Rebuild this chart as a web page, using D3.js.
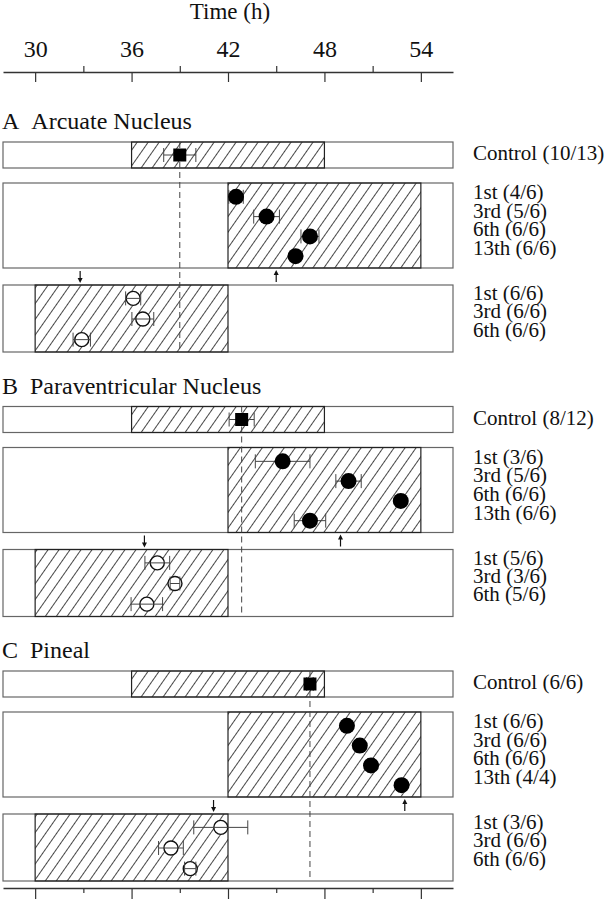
<!DOCTYPE html>
<html>
<head>
<meta charset="utf-8">
<script src="https://cdn.jsdelivr.net/npm/d3@7"></script>
<style>
  body { margin: 0; background: #fff; }
  svg, svg text { font-family: "Liberation Serif", Tinos, "Times New Roman", Times, "DejaVu Serif", serif !important; }
</style>
</head>
<body>
<div id="chart"></div>
<script>
var width = 612, height = 899;
var serif = "'Liberation Serif', Tinos, 'Times New Roman', Times, 'DejaVu Serif', serif";

// time axis
var tickHours = [30, 36, 42, 48, 54];
var minorHours = [33, 39, 45, 51];

// panels
var panelLetters = ["A", "B", "C"];
var panelNames = ["Arcuate Nucleus", "Paraventricular Nucleus", "Pineal"];

// shaded (dark) intervals of each row of boxes
var controlHatch = [36, 48];
var lateHatch = [42, 54];
var earlyHatch = [30, 42];

// control peak times
var controlMean = [39.0, 42.85, 47.1];
var controlErr = [1.0, 0.78, 0.2];
var controlLabels = ["Control (10/13)", "Control (8/12)", "Control (6/6)"];

// filled circles (middle boxes)
var lateMean = [
  [42.5, 44.4, 47.1, 46.2],
  [45.4, 49.5, 52.75, 47.1],
  [49.4, 50.2, 50.9, 52.8]
];
var lateErr = [
  [0.45, 0.8, 0.56, 0.2],
  [1.7, 0.79, 0.2, 0.98],
  [0.2, 0.2, 0.2, 0.2]
];
var lateLabels = [
  ["1st (4/6)", "3rd (5/6)", "6th (6/6)", "13th (6/6)"],
  ["1st (3/6)", "3rd (5/6)", "6th (6/6)", "13th (6/6)"],
  ["1st (6/6)", "3rd (6/6)", "6th (6/6)", "13th (4/4)"]
];

// open circles (bottom boxes)
var earlyMean = [
  [36.1, 36.7, 32.9],
  [37.6, 38.7, 36.95],
  [41.55, 38.45, 39.65]
];
var earlyErr = [
  [0.47, 0.68, 0.54],
  [0.77, 0.3, 0.98],
  [1.68, 0.77, 0.35]
];
var earlyLabels = [
  ["1st (6/6)", "3rd (6/6)", "6th (6/6)"],
  ["1st (5/6)", "3rd (3/6)", "6th (5/6)"],
  ["1st (3/6)", "3rd (6/6)", "6th (6/6)"]
];

// small arrows between the boxes
var arrowDown = [32.8, 36.8, 41.1];
var arrowUp = [45.0, 49.0, 53.0];

var x = d3.scaleLinear().domain([28, 56]).range([3, 453]);

var svg = d3.select("#chart")
  .append("svg")
    .attr("width", width)
    .attr("height", height)
    .attr("font-family", serif);

var defs = svg.append("defs");
defs.append("pattern")
    .attr("id", "hatch")
    .attr("patternUnits", "userSpaceOnUse")
    .attr("width", 9)
    .attr("height", 9)
    .attr("patternTransform", "rotate(35)")
  .append("line")
    .attr("x1", 4.5).attr("y1", 0)
    .attr("x2", 4.5).attr("y2", 9)
    .attr("stroke", "#333")
    .attr("stroke-width", 0.9);

// ---- top axis
var axisY = 72;
svg.append("text")
  .attr("x", 230)
  .attr("y", 19)
  .attr("text-anchor", "middle")
  .attr("font-family", serif)
  .attr("font-size", 23)
  .attr("fill", "#111")
  .text("Time (h)");

var topAxis = svg.append("g")
  .attr("transform", "translate(0," + axisY + ")")
  .call(d3.axisTop(x)
    .tickValues(tickHours.concat(minorHours))
    .tickSizeInner(-10)
    .tickSizeOuter(0)
    .tickPadding(15)
    .tickFormat(d => tickHours.indexOf(d) >= 0 ? d : ""));
styleAxis(topAxis, -6);

// ---- bottom axis
var bottomAxis = svg.append("g")
  .attr("transform", "translate(0,888)")
  .call(d3.axisBottom(x)
    .tickValues(tickHours.concat(minorHours))
    .tickSizeInner(11)
    .tickSizeOuter(0)
    .tickFormat(""));
styleAxis(bottomAxis, 5);

function styleAxis(g, minorLen) {
  g.attr("font-family", serif);
  g.select(".domain").attr("stroke", "#333").attr("stroke-width", 1.3);
  g.selectAll(".tick line").attr("stroke", "#333").attr("stroke-width", 1.2);
  g.selectAll(".tick text")
    .attr("font-size", 24)
    .attr("font-family", serif)
    .attr("fill", "#111");
  g.selectAll(".tick")
    .filter(d => minorHours.indexOf(d) >= 0)
    .select("line")
      .attr("y2", minorLen);
}

// ---- panels
panelLetters.forEach(function(letter, i) {
  var top = 142 + i * 264.5;
  var g = svg.append("g").attr("transform", "translate(0," + top + ")");

  var ctrl = [0, 26], late = [41, 126], early = [143, 210];

  var title = g.append("text")
    .attr("x", 2)
    .attr("y", -13)
    .attr("font-family", serif)
    .attr("font-size", 24)
    .attr("fill", "#111");
  title.append("tspan").text(letter);
  title.append("tspan").attr("dx", 12).text(panelNames[i]);

  drawBox(g, ctrl, controlHatch);
  drawBox(g, late, lateHatch);
  drawBox(g, early, earlyHatch);

  // dashed line at the control mean
  g.append("line")
    .attr("x1", x(controlMean[i])).attr("x2", x(controlMean[i]))
    .attr("y1", ctrl[0]).attr("y2", early[1])
    .attr("stroke", "#444")
    .attr("stroke-width", 1)
    .attr("stroke-dasharray", "6,4");

  // arrows
  drawArrow(g, x(arrowDown[i]), late[1] + 3, early[0] - 2, "down");
  drawArrow(g, x(arrowUp[i]), early[0] - 3, late[1] + 2, "up");

  // control square
  var cy = (ctrl[0] + ctrl[1]) / 2;
  errBar(g, controlMean[i], controlErr[i], cy);
  g.append("rect")
    .attr("x", x(controlMean[i]) - 6.5)
    .attr("y", cy - 6.5)
    .attr("width", 13)
    .attr("height", 13)
    .attr("fill", "#000");

  // filled circles
  var yLate = d3.scalePoint().domain(d3.range(lateMean[i].length))
    .range([late[0] + 2, late[1]]).padding(0.6);
  lateMean[i].forEach(function(m, j) {
    errBar(g, m, lateErr[i][j], yLate(j));
  });
  g.selectAll("circle.late")
    .data(lateMean[i])
    .join("circle")
      .attr("class", "late")
      .attr("cx", d => x(d))
      .attr("cy", (d, j) => yLate(j))
      .attr("r", 8)
      .attr("fill", "#000");

  // open circles
  var yEarly = d3.scalePoint().domain(d3.range(earlyMean[i].length))
    .range([early[0] + 1, early[1]]).padding(0.6);
  g.selectAll("circle.early")
    .data(earlyMean[i])
    .join("circle")
      .attr("class", "early")
      .attr("cx", d => x(d))
      .attr("cy", (d, j) => yEarly(j))
      .attr("r", 7)
      .attr("fill", "#fff")
      .attr("stroke", "#111")
      .attr("stroke-width", 1.4);
  earlyMean[i].forEach(function(m, j) {
    errBar(g, m, earlyErr[i][j], yEarly(j));
  });

  // right-hand labels
  var lx = 473;
  g.append("text")
    .attr("x", lx).attr("y", cy + 5)
    .attr("font-family", serif)
    .attr("font-size", 21).attr("fill", "#111")
    .text(controlLabels[i]);
  g.selectAll("text.late")
    .data(lateLabels[i])
    .join("text")
      .attr("class", "late")
      .attr("x", lx)
      .attr("y", (d, j) => late[0] + 16 + j * 18.7)
      .attr("font-family", serif)
      .attr("font-size", 21).attr("fill", "#111")
      .text(d => d);
  g.selectAll("text.early")
    .data(earlyLabels[i])
    .join("text")
      .attr("class", "early")
      .attr("x", lx)
      .attr("y", (d, j) => early[0] + 15 + j * 18.4)
      .attr("font-family", serif)
      .attr("font-size", 21).attr("fill", "#111")
      .text(d => d);
});

function drawBox(g, ys, hatch) {
  g.append("rect")
    .attr("x", x(28))
    .attr("y", ys[0])
    .attr("width", x(56) - x(28))
    .attr("height", ys[1] - ys[0])
    .attr("fill", "#fff")
    .attr("stroke", "#666")
    .attr("stroke-width", 1.2);
  g.append("rect")
    .attr("x", x(hatch[0]))
    .attr("y", ys[0])
    .attr("width", x(hatch[1]) - x(hatch[0]))
    .attr("height", ys[1] - ys[0])
    .attr("fill", "url(#hatch)")
    .attr("stroke", "#222")
    .attr("stroke-width", 1.2);
}

function errBar(g, m, e, y) {
  var eg = g.append("g")
    .attr("stroke", "#444")
    .attr("stroke-width", 1);
  eg.append("line")
    .attr("x1", x(m - e)).attr("x2", x(m + e))
    .attr("y1", y).attr("y2", y);
  [m - e, m + e].forEach(function(v) {
    eg.append("line")
      .attr("x1", x(v)).attr("x2", x(v))
      .attr("y1", y - 7).attr("y2", y + 7);
  });
}

function drawArrow(g, ax, yFrom, yTip, dir) {
  var s = dir === "down" ? -1 : 1;
  g.append("line")
    .attr("x1", ax).attr("x2", ax)
    .attr("y1", yFrom).attr("y2", yTip + s * 3)
    .attr("stroke", "#111")
    .attr("stroke-width", 1.2);
  g.append("path")
    .attr("d", "M" + ax + "," + yTip +
      "L" + (ax - 2.5) + "," + (yTip + s * 5) +
      "L" + (ax + 2.5) + "," + (yTip + s * 5) + "Z")
    .attr("fill", "#111");
}
</script>
</body>
</html>
